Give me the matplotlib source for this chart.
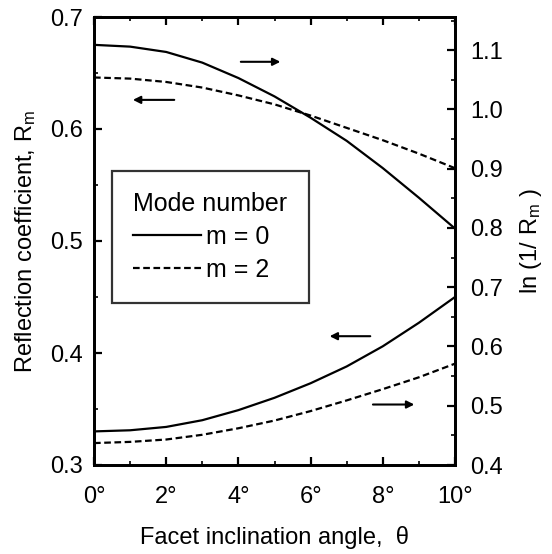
import matplotlib
matplotlib.use('Agg')
import matplotlib.pyplot as plt
from matplotlib.ticker import MultipleLocator, FuncFormatter

plt.rcParams['font.family'] = ['Liberation Sans', 'DejaVu Sans']
plt.rcParams['mathtext.fontset'] = 'custom'
plt.rcParams['mathtext.rm'] = 'Liberation Sans'
plt.rcParams['mathtext.it'] = 'Liberation Sans:italic'

# facet angle in degrees
angle = [0, 1, 2, 3, 4, 5, 6, 7, 8, 9, 10]
# reflection coefficient (left axis)
r_m0 = [0.330, 0.331, 0.334, 0.340, 0.349, 0.360, 0.373, 0.388, 0.406, 0.427, 0.450]
r_m2 = [0.646, 0.645, 0.642, 0.637, 0.630, 0.622, 0.612, 0.601, 0.590, 0.578, 0.565]
# ln(1/R) (right axis)
ln_m0 = [1.109, 1.106, 1.097, 1.079, 1.053, 1.022, 0.986, 0.947, 0.901, 0.851, 0.799]
ln_m2 = [0.437, 0.439, 0.443, 0.451, 0.462, 0.475, 0.491, 0.509, 0.528, 0.548, 0.571]

fig = plt.figure(figsize=(5.52, 5.54), dpi=100)
ax = fig.add_axes([94 / 552, 1 - 465 / 554, 361 / 552, 448 / 554])
ax2 = ax.twinx()

dash = (0, (3, 1.6))
ax.plot(angle, r_m0, color='black', lw=1.6)
ax.plot(angle, r_m2, color='black', lw=1.6, linestyle=dash)
ax2.plot(angle, ln_m0, color='black', lw=1.6, label='m = 0')
ax2.plot(angle, ln_m2, color='black', lw=1.6, linestyle=dash, label='m = 2')

ax.set_xlim(0, 10)
ax.set_ylim(0.3, 0.7)
ax2.set_ylim(0.4, 1.156)

ax.xaxis.set_major_locator(MultipleLocator(2))
ax.xaxis.set_minor_locator(MultipleLocator(1))
ax.xaxis.set_major_formatter(FuncFormatter(lambda v, p: f'{int(v)}°'))
ax.yaxis.set_major_locator(MultipleLocator(0.1))
ax.yaxis.set_minor_locator(MultipleLocator(0.05))
ax2.yaxis.set_major_locator(MultipleLocator(0.1))
ax2.yaxis.set_minor_locator(MultipleLocator(0.05))

for a in (ax, ax2):
    a.tick_params(which='major', direction='in', length=6, width=1.6, labelsize=17)
    a.tick_params(which='minor', direction='in', length=3, width=1.2)
    for s in a.spines.values():
        s.set_linewidth(2.0)
ax.tick_params(axis='x', which='both', top=True, pad=15)
ax.tick_params(axis='y', which='both', right=False, pad=8)
ax2.tick_params(axis='y', which='both', pad=11)

ax.set_xlabel('Facet inclination angle,  θ', fontsize=17, labelpad=13)
ax.set_ylabel(r'Reflection coefficient, R$_\mathrm{m}$', fontsize=17, labelpad=9)
ax2.set_ylabel(r'ln (1/ R$_\mathrm{m}$ )', fontsize=17, labelpad=11)

leg = ax2.legend(loc='upper left', bbox_to_anchor=(0.05, 0.656),
                 title='Mode number', fontsize=18, title_fontsize=18,
                 frameon=True, fancybox=False, edgecolor='black',
                 handlelength=2.7, handletextpad=0.2, borderpad=0.85,
                 labelspacing=0.35, borderaxespad=0)
leg.get_frame().set_linewidth(1.6)
leg._legend_box.align = 'left'

arrow = dict(arrowstyle='-|>', color='black', lw=1.5, mutation_scale=11)
ax.annotate('', xy=(5.24, 0.660), xytext=(3.99, 0.660), arrowprops=arrow)
ax.annotate('', xy=(1.0, 0.626), xytext=(2.3, 0.626), arrowprops=arrow)
ax.annotate('', xy=(6.45, 0.415), xytext=(7.73, 0.415), arrowprops=arrow)
ax.annotate('', xy=(8.95, 0.354), xytext=(7.65, 0.354), arrowprops=arrow)

fig.savefig('out.png', dpi=100)
